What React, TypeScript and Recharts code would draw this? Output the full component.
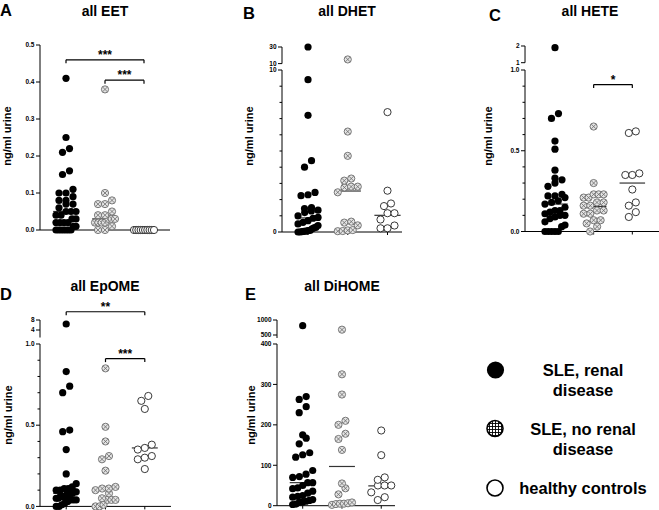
import React from "react";
import { ScatterChart, Scatter, XAxis, YAxis, ReferenceLine, ReferenceDot } from "recharts";

const FONT = '"Liberation Sans", Arial, Helvetica, sans-serif';

// group order in every panel: SLE renal disease, SLE no renal disease, healthy controls

// A - all EET (ng/ml urine)
const eetRenal = [0.41, 0.25, 0.22, 0.21, 0.16, 0.15, 0.11, 0.1, 0.1, 0.09, 0.08, 0.08, 0.07, 0.07, 0.06, 0.05, 0.05, 0.05, 0.04, 0.04, 0.03, 0.03, 0.02, 0.02, 0.02, 0.02, 0.01, 0.01, 0, 0, 0, 0, 0, 0, 0];
const eetNoRenal = [0.38, 0.1, 0.08, 0.07, 0.07, 0.05, 0.04, 0.04, 0.03, 0.03, 0.03, 0.02, 0.02, 0.02, 0.02, 0.01, 0, 0];
const eetHealthy = [0, 0, 0, 0, 0, 0, 0, 0, 0, 0];
const eetMedians = [0.05, 0.03, 0];
const eetTicks = [0, 0.1, 0.2, 0.3, 0.4, 0.5];

// B - all DHET
const dhetRenal = [30, 9.4, 7.2, 4.4, 4.0, 2.44, 2.3, 2.24, 1.5, 1.45, 1.35, 1.3, 1.2, 1.0, 0.9, 0.85, 0.7, 0.6, 0.5, 0.4, 0.3, 0.25, 0.2, 0.1, 0.08, 0.05, 0.04, 0.02, 0, 0];
const dhetNoRenal = [15, 6.2, 4.7, 3.3, 3.17, 2.8, 2.8, 2.75, 2.45, 0.64, 0.58, 0.41, 0.12, 0.1, 0.06, 0.05];
const dhetHealthy = [7.4, 2.55, 1.76, 1.6, 1.16, 1.16, 0.77, 0.4, 0.23, 0.23];
const dhetMedians = [0.87, 2.53, 1.03];
const dhetTicksLow = [0, 1, 2, 3, 4, 5, 6, 7, 8, 9, 10];
const dhetLabelsLow = [0, 10];
const dhetTicksHigh = [10, 30];

// C - all HETE
const heteRenal = [1.9, 0.73, 0.7, 0.56, 0.51, 0.38, 0.33, 0.32, 0.3, 0.28, 0.23, 0.22, 0.22, 0.21, 0.19, 0.18, 0.17, 0.15, 0.13, 0.13, 0.12, 0.11, 0.1, 0.1, 0.09, 0.08, 0.06, 0.04, 0.03, 0, 0, 0, 0, 0];
const heteNoRenal = [0.65, 0.3, 0.23, 0.23, 0.23, 0.21, 0.21, 0.18, 0.18, 0.16, 0.16, 0.13, 0.13, 0.11, 0.11, 0.07, 0.07, 0.05, 0.03, 0];
const heteHealthy = [0.62, 0.61, 0.36, 0.35, 0.35, 0.26, 0.18, 0.16, 0.12, 0.09];
const heteMedians = [0.17, 0.155, 0.3];
const fracTicks = [0, 0.1, 0.2, 0.3, 0.4, 0.5, 0.6, 0.7, 0.8, 0.9, 1];
const fracLabels = [0, 0.5, 1];
const heteTicksHigh = [1, 2];

// D - all EpOME
const epomeRenal = [6.4, 0.83, 0.74, 0.7, 0.47, 0.46, 0.35, 0.2, 0.14, 0.12, 0.11, 0.11, 0.1, 0.1, 0.09, 0.09, 0.08, 0.08, 0.08, 0.07, 0.06, 0.06, 0.06, 0.05, 0.05, 0.04, 0.04, 0.04, 0.03, 0.02, 0.01, 0, 0];
const epomeNoRenal = [0.85, 0.49, 0.4, 0.31, 0.29, 0.22, 0.12, 0.11, 0.11, 0.1, 0.08, 0.05, 0.04, 0.04, 0.04, 0.01, 0, 0];
const epomeHealthy = [0.68, 0.65, 0.6, 0.38, 0.36, 0.35, 0.31, 0.3, 0.29, 0.23];
const epomeMedians = [0.08, 0.11, 0.36];
const epomeTicksHigh = [4, 8];

// E - all DiHOME
const dihomeRenal = [810, 270, 263, 245, 230, 175, 167, 153, 131, 126, 120, 87, 78, 72, 70, 57, 57, 50, 44, 42, 36, 31, 25, 23, 21, 15, 13, 11, 9, 8, 4, 3];
const dihomeNoRenal = [678, 325, 275, 210, 200, 178, 165, 138, 55, 43, 28, 8, 6, 5, 5, 4, 2];
const dihomeHealthy = [186, 125, 70, 64, 50, 50, 50, 33, 21, 14];
const dihomeMedians = [57, 97, 49];
const dihomeTicksLow = [0, 100, 200, 300, 400];
const dihomeTicksHigh = [500, 1000];

const LEFT = 30; // room for y tick labels
const R = 3.6; // marker radius
const DOT = 7; // spacing of neighbouring markers
const MAX_HALF = 10; // max half width of a swarm (marker centres)
const MEDIAN_HALF = 0.33;

type Seg = {
  domain: [number, number];
  top: number;
  bottom: number;
  ticks: number[];
  labels: number[];
  digits: number;
  padTop?: number;
};
type Bracket = { from: number; to: number; y: number; stars: string; upper?: boolean };
type Panel = {
  axisX: number;
  xRight: number;
  rightPad: number;
  xDomain: [number, number];
  lower: Seg;
  upper?: Seg;
  groups: number[][];
  medians: number[];
  brackets: Bracket[];
};

// lay points of one group out in rows, like a prism scatter dot plot
function swarm(values: number[], group: number, pxPerY: number, pxPerX: number) {
  const sorted = [...values].sort((a, b) => a - b);
  const rows: number[][] = [];
  for (const v of sorted) {
    const row = rows[rows.length - 1];
    if (row && (v - row[0]) * pxPerY < DOT) row.push(v);
    else rows.push([v]);
  }
  const out: { x: number; y: number }[] = [];
  for (const row of rows) {
    const n = row.length;
    const step = n > 1 ? Math.min(DOT, (2 * MAX_HALF) / (n - 1)) : 0;
    row.forEach((v, i) => out.push({ x: group + ((i - (n - 1) / 2) * step) / pxPerX, y: v }));
  }
  return out;
}

const FilledDot = (p: any) => <circle cx={p.cx} cy={p.cy} r={R} fill="#000" />;
const CrossDot = (p: any) => {
  const d = R * 0.66;
  return (
    <g>
      <circle cx={p.cx} cy={p.cy} r={R} fill="#e4e4e4" stroke="#6a6a6a" strokeWidth={0.9} />
      <path
        d={`M${p.cx - d},${p.cy - d}L${p.cx + d},${p.cy + d}M${p.cx - d},${p.cy + d}L${p.cx + d},${p.cy - d}`}
        stroke="#6a6a6a"
        strokeWidth={0.8}
      />
    </g>
  );
};
const OpenDot = (p: any) => <circle cx={p.cx} cy={p.cy} r={R} fill="#fff" stroke="#222" strokeWidth={0.9} />;
const shapes = [FilledDot, CrossDot, OpenDot];

function makeTick(seg: Seg) {
  return (props: any) => {
    const { y, payload } = props;
    const v = payload.value as number;
    const major = seg.labels.includes(v);
    return (
      <g>
        <line x1={LEFT - (major ? 4 : 2.5)} x2={LEFT} y1={y} y2={y} stroke="#000" strokeWidth={1} />
        {major && (
          <text x={LEFT - 5.5} y={y} dy="0.35em" textAnchor="end" fontSize={6.5} fontWeight="bold" fontFamily={FONT} fill="#000">
            {v.toFixed(seg.digits)}
          </text>
        )}
      </g>
    );
  };
}

function SegmentChart({ p, seg, isLower }: { p: Panel; seg: Seg; isLower: boolean }) {
  const plotW = p.xRight - p.axisX;
  const padTop = seg.padTop ?? 6;
  const padBottom = isLower ? 12 : 5;
  const W = LEFT + plotW + p.rightPad;
  const H = padTop + (seg.bottom - seg.top) + padBottom;
  const pxPerY = (seg.bottom - seg.top) / (seg.domain[1] - seg.domain[0]);
  const pxPerX = plotW / (p.xDomain[1] - p.xDomain[0]);
  const split = p.upper ? p.lower.domain[1] : Infinity;
  const legs = 3.5 / pxPerY;

  const series = p.groups.map((vals, i) => {
    const own = vals.filter((v) => (isLower ? v <= split : v > split));
    return swarm(own, i + 1, pxPerY, pxPerX);
  });
  const brackets = p.brackets.filter((b) => !!b.upper === !isLower);

  return (
    <div style={{ position: "absolute", left: p.axisX - LEFT, top: seg.top - padTop, width: W, height: H }}>
      <ScatterChart width={W} height={H} margin={{ top: padTop, right: p.rightPad, bottom: isLower ? 0 : padBottom, left: 0 }}>
        <XAxis
          type="number"
          dataKey="x"
          domain={p.xDomain}
          ticks={[1, 2, 3]}
          interval={0}
          hide={!isLower}
          height={padBottom}
          tickSize={3}
          tickFormatter={() => ""}
          axisLine={{ stroke: "#000", strokeWidth: 1 }}
          tickLine={{ stroke: "#000" }}
        />
        <YAxis
          type="number"
          dataKey="y"
          domain={seg.domain}
          ticks={seg.ticks}
          interval={0}
          width={LEFT}
          axisLine={{ stroke: "#000", strokeWidth: 1 }}
          tickLine={false}
          tick={makeTick(seg)}
        />
        {isLower &&
          p.medians.map((m, i) => (
            <ReferenceLine
              key={`m${i}`}
              segment={[
                { x: i + 1 - MEDIAN_HALF, y: m },
                { x: i + 1 + MEDIAN_HALF, y: m },
              ]}
              stroke="#333"
              strokeWidth={1.2}
              ifOverflow="visible"
            />
          ))}
        {series.map((pts, i) => (
          <Scatter key={i} data={pts} shape={shapes[i]} isAnimationActive={false} />
        ))}
        {brackets.map((b, i) => [
          <ReferenceLine
            key={`bh${i}`}
            segment={[
              { x: b.from, y: b.y },
              { x: b.to, y: b.y },
            ]}
            stroke="#000"
            strokeWidth={1.2}
            ifOverflow="visible"
          />,
          <ReferenceLine
            key={`bl${i}`}
            segment={[
              { x: b.from, y: b.y },
              { x: b.from, y: b.y - legs },
            ]}
            stroke="#000"
            strokeWidth={1.2}
            ifOverflow="visible"
          />,
          <ReferenceLine
            key={`br${i}`}
            segment={[
              { x: b.to, y: b.y },
              { x: b.to, y: b.y - legs },
            ]}
            stroke="#000"
            strokeWidth={1.2}
            ifOverflow="visible"
          />,
          <ReferenceDot
            key={`bs${i}`}
            x={(b.from + b.to) / 2}
            y={b.y}
            r={0}
            ifOverflow="visible"
            label={{ value: b.stars, position: "top", offset: 1, fontSize: 12, fontWeight: "bold", fill: "#000", fontFamily: FONT }}
          />,
        ])}
      </ScatterChart>
    </div>
  );
}

function PanelView({ p }: { p: Panel }) {
  return (
    <>
      <SegmentChart p={p} seg={p.lower} isLower />
      {p.upper && <SegmentChart p={p} seg={p.upper} isLower={false} />}
    </>
  );
}

const panels: Panel[] = [
  {
    axisX: 40,
    xRight: 170,
    rightPad: 6,
    xDomain: [1 / 3, 11 / 3],
    lower: { domain: [0, 0.5], top: 44.5, bottom: 229.5, ticks: eetTicks, labels: eetTicks, digits: 1 },
    groups: [eetRenal, eetNoRenal, eetHealthy],
    medians: eetMedians,
    brackets: [
      { from: 1, to: 3, y: 0.46, stars: "***" },
      { from: 2, to: 3, y: 0.405, stars: "***" },
    ],
  },
  {
    axisX: 282,
    xRight: 402,
    rightPad: 6,
    xDomain: [0.345, 3.365],
    lower: { domain: [0, 10], top: 69.5, bottom: 231.5, ticks: dhetTicksLow, labels: dhetLabelsLow, digits: 0 },
    upper: { domain: [10, 30], top: 46.7, bottom: 63.3, ticks: dhetTicksHigh, labels: dhetTicksHigh, digits: 0 },
    groups: [dhetRenal, dhetNoRenal, dhetHealthy],
    medians: dhetMedians,
    brackets: [],
  },
  {
    axisX: 525,
    xRight: 659,
    rightPad: 0,
    xDomain: [0.225, 3.69],
    lower: { domain: [0, 1], top: 69.5, bottom: 231, ticks: fracTicks, labels: fracLabels, digits: 1 },
    upper: { domain: [1, 2], top: 46, bottom: 62.7, ticks: heteTicksHigh, labels: heteTicksHigh, digits: 0 },
    groups: [heteRenal, heteNoRenal, heteHealthy],
    medians: heteMedians,
    brackets: [{ from: 2, to: 3, y: 0.91, stars: "*" }],
  },
  {
    axisX: 40,
    xRight: 171,
    rightPad: 6,
    xDomain: [1 / 3, 11 / 3],
    lower: { domain: [0, 1], top: 344.3, bottom: 506.7, ticks: fracTicks, labels: fracLabels, digits: 1 },
    upper: { domain: [1, 8], top: 320.3, bottom: 337.8, ticks: epomeTicksHigh, labels: epomeTicksHigh, digits: 0, padTop: 24 },
    groups: [epomeRenal, epomeNoRenal, epomeHealthy],
    medians: epomeMedians,
    brackets: [
      { from: 1, to: 3, y: 11.3, stars: "**", upper: true },
      { from: 2, to: 3, y: 0.91, stars: "***" },
    ],
  },
  {
    axisX: 277,
    xRight: 395,
    rightPad: 6,
    xDomain: [0.346, 3.35],
    lower: { domain: [0, 400], top: 344.3, bottom: 506, ticks: dihomeTicksLow, labels: dihomeTicksLow, digits: 0 },
    upper: { domain: [400, 1000], top: 320, bottom: 338, ticks: dihomeTicksHigh, labels: dihomeTicksHigh, digits: 0 },
    groups: [dihomeRenal, dihomeNoRenal, dihomeHealthy],
    medians: dihomeMedians,
    brackets: [],
  },
];

const titles = [
  { letter: "A", lx: 0, ly: 9.5, title: "all EET", tx: 105, ty: 11, yl: 7, yc: 136 },
  { letter: "B", lx: 243, ly: 12.5, title: "all DHET", tx: 347, ty: 11, yl: 249, yc: 136 },
  { letter: "C", lx: 489, ly: 15, title: "all HETE", tx: 590, ty: 11, yl: 488, yc: 136 },
  { letter: "D", lx: 0, ly: 293.7, title: "all EpOME", tx: 105, ty: 286, yl: 8, yc: 415 },
  { letter: "E", lx: 245, ly: 294, title: "all DiHOME", tx: 342, ty: 286, yl: 251, yc: 415 },
];

function Overlay() {
  const bold = { fontFamily: FONT, fontWeight: "bold" as const, fill: "#000" };
  return (
    <svg width={659} height={510} style={{ position: "absolute", left: 0, top: 0, pointerEvents: "none" }}>
      <defs>
        <pattern id="grid" width={3} height={3} patternUnits="userSpaceOnUse">
          <rect width={3} height={3} fill="#fff" />
          <path d="M0,0.5H3M0.5,0V3" stroke="#000" strokeWidth={0.9} />
        </pattern>
      </defs>
      {titles.map((t) => (
        <g key={t.letter}>
          <text x={t.lx} y={t.ly} dominantBaseline="central" fontSize={16.5} {...bold}>
            {t.letter}
          </text>
          <text x={t.tx} y={t.ty} dominantBaseline="central" textAnchor="middle" fontSize={14} {...bold}>
            {t.title}
          </text>
          <text
            transform={`translate(${t.yl},${t.yc}) rotate(-90)`}
            dominantBaseline="central"
            textAnchor="middle"
            fontSize={11}
            {...bold}
          >
            ng/ml urine
          </text>
        </g>
      ))}
      <circle cx={495.5} cy={370} r={8.6} fill="#000" />
      <circle cx={495} cy={428.5} r={8} fill="url(#grid)" stroke="#000" strokeWidth={1.6} />
      <circle cx={495} cy={488} r={8} fill="#fff" stroke="#000" strokeWidth={1.6} />
      <g fontSize={16.5} textAnchor="middle" dominantBaseline="central" {...bold}>
        <text x={583} y={370}>SLE, renal</text>
        <text x={583} y={390}>disease</text>
        <text x={583} y={429}>SLE, no renal</text>
        <text x={583} y={449}>disease</text>
        <text x={583} y={488}>healthy controls</text>
      </g>
    </svg>
  );
}

export default function App() {
  return (
    <div style={{ position: "absolute", left: 0, top: 0, width: 659, height: 510, overflow: "hidden", background: "#fff" }}>
      {panels.map((p, i) => (
        <PanelView key={i} p={p} />
      ))}
      <Overlay />
    </div>
  );
}
